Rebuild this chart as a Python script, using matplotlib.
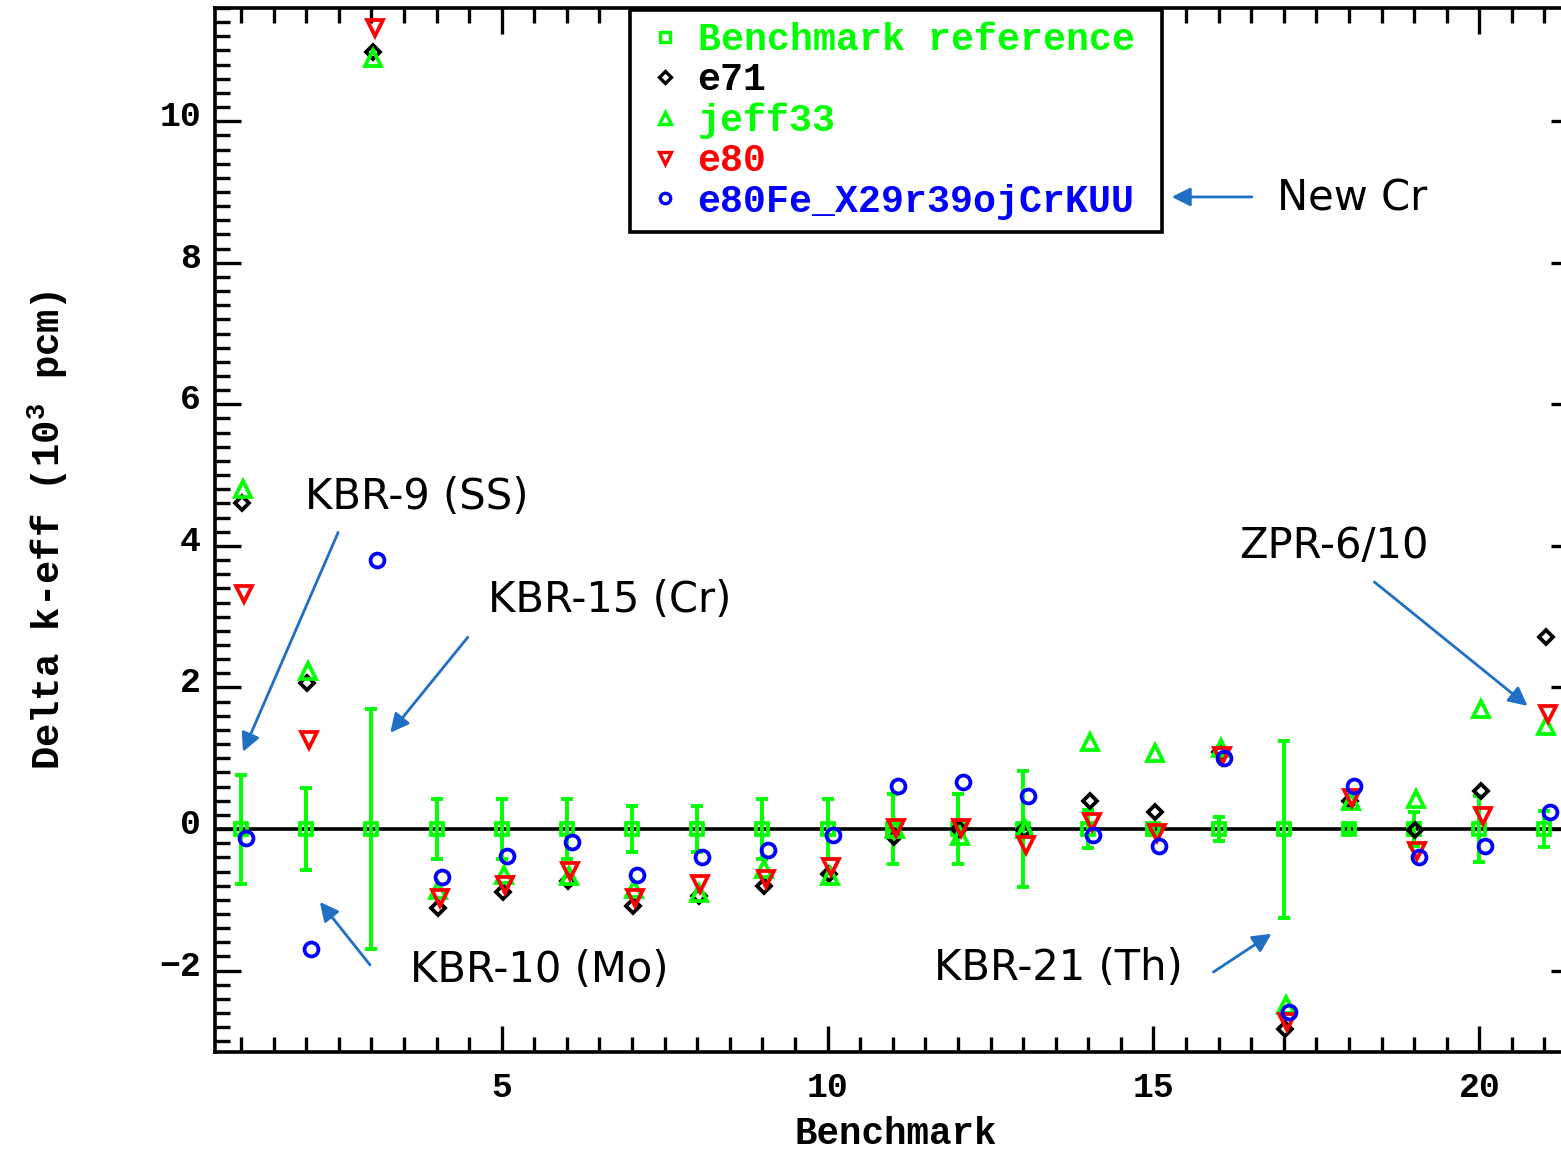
import numpy as np
import matplotlib
matplotlib.use("Agg")
import matplotlib.pyplot as plt
import matplotlib.transforms as mtrans
from matplotlib.lines import Line2D
from matplotlib.ticker import MultipleLocator
from matplotlib.font_manager import FontProperties

plt.rcParams['mathtext.fontset'] = 'custom'
plt.rcParams['mathtext.rm'] = 'Liberation Mono:bold'
plt.rcParams['mathtext.default'] = 'rm'

# benchmark index
bench = np.arange(1, 22)

# benchmark reference (0) and its uncertainty, 10^3 pcm
ref = np.zeros(21)
ref_err = [0.77, 0.58, 1.70, 0.42, 0.42, 0.42, 0.32, 0.33, 0.43, 0.43, 0.49,
           0.49, 0.82, 0.27, 0.05, 0.17, 1.25, 0.05, 0.24, 0.46, 0.25]

e71 = [4.60, 2.07, 10.98, -1.12, -0.89, -0.73, -1.09, -0.95, -0.81, -0.63, -0.11,
       0.00, -0.01, 0.40, 0.24, 1.09, -2.82, 0.39, -0.01, 0.54, 2.71]
jeff33 = [4.80, 2.23, 10.90, -0.86, -0.65, -0.67, -0.85, -0.90, -0.56, -0.67, 0.00,
          -0.10, 0.00, 1.23, 1.08, 1.14, -2.49, 0.39, 0.43, 1.69, 1.45]
e80 = [3.32, 1.26, 11.31, -0.98, -0.79, -0.59, -0.98, -0.77, -0.70, -0.53, 0.02,
       0.01, -0.23, 0.10, -0.05, 1.03, -2.72, 0.44, -0.31, 0.18, 1.63]
e80fe = [-0.12, -1.69, 3.80, -0.68, -0.38, -0.18, -0.65, -0.39, -0.29, -0.08, 0.61,
         0.67, 0.47, -0.08, -0.24, 1.01, -2.59, 0.61, -0.39, -0.24, 0.24]

labels = ['Benchmark reference', 'e71', 'jeff33', 'e80', 'e80Fe_X29r39ojCrKUU']
colors = ['#00ff00', 'black', '#00ff00', 'red', 'blue']
markers = ['s', 'D', '^', 'v', 'o']
msizes = [9, 7.5, 11, 11, 10]
xshift = [0.0, 0.02, 0.03, 0.05, 0.08]

# annotations: text, text pos (left, center), arrow start, arrow tip
notes = ['KBR-9 (SS)', 'KBR-15 (Cr)', 'KBR-10 (Mo)', 'KBR-21 (Th)', 'ZPR-6/10', 'New Cr']
note_xy = [(1.98, 4.69), (4.79, 3.23), (3.59, -1.99), (11.64, -1.96), (16.32, 4.0), (16.90, 8.91)]
arr_from = [(2.49, 4.19), (4.48, 2.71), (2.98, -1.92), (15.92, -2.02), (18.39, 3.49), (16.51, 8.93)]
arr_to = [(1.03, 1.09), (3.29, 1.36), (2.21, -1.03), (16.81, -1.48), (20.74, 1.74), (15.28, 8.93)]

mono = 'Liberation Mono'

fig = plt.figure(figsize=(15.61, 11.53), dpi=100)
ax = fig.add_axes([0.1377, 0.0876, 0.8726, 0.9055])

ax.axhline(0, color='black', lw=2.6, zorder=1.5)

ax.errorbar(bench + xshift[0], ref, yerr=ref_err, fmt='none', ecolor=colors[0],
            elinewidth=2.8, capsize=4, capthick=2.8, zorder=2)
series = [ref, e71, jeff33, e80, e80fe]
for i, ys in enumerate(series):
    ax.plot(bench + xshift[i], ys, linestyle='none', marker=markers[i], ms=msizes[i],
            mfc='none', mec=colors[i], mew=2.7, zorder=3 + i)

ax.set_xlim(0.6, 21.5)
ax.set_ylim(-3.15, 11.6)
ax.xaxis.set_major_locator(MultipleLocator(5))
ax.xaxis.set_minor_locator(MultipleLocator(0.5))
ax.yaxis.set_major_locator(MultipleLocator(2))
ax.yaxis.set_minor_locator(MultipleLocator(0.2))
ax.tick_params(which='both', direction='in', top=True, right=True, width=2.4)
ax.tick_params(which='major', length=19)
ax.tick_params(which='minor', length=11)
ax.tick_params(axis='x', pad=14)
ax.tick_params(axis='y', pad=10)
for sp in ax.spines.values():
    sp.set_linewidth(2.6)

tick_font = FontProperties(family=mono, weight='bold', size=25)
for lab in ax.get_xticklabels() + ax.get_yticklabels():
    lab.set_fontproperties(tick_font)
# y labels sit a little above their ticks in the original
lift = mtrans.ScaledTranslation(0, 8 / 100, fig.dpi_scale_trans)
for lab in ax.get_yticklabels():
    lab.set_transform(lab.get_transform() + lift)

ax.set_xlabel('Benchmark', fontproperties=FontProperties(family=mono, weight='bold', size=27),
              labelpad=8)
ax.set_ylabel('Delta k-eff (10$^{3}$ pcm)',
              fontproperties=FontProperties(family=mono, weight='bold', size=28), labelpad=64)

for txt, xy, a0, a1 in zip(notes, note_xy, arr_from, arr_to):
    ax.text(xy[0], xy[1], txt, fontsize=30, family='DejaVu Sans', ha='left', va='center',
            zorder=10)
    ax.annotate('', xy=a1, xytext=a0,
                arrowprops=dict(arrowstyle='-|>', color='#1f6fc5', lw=2, mutation_scale=28,
                                shrinkA=0, shrinkB=0),
                annotation_clip=False, zorder=10)

handles = [Line2D([], [], linestyle='none', marker=markers[i], ms=msizes[i] * 0.75,
                  mfc='none', mec=colors[i], mew=2.4) for i in range(5)]
leg = ax.legend(handles, labels, loc='upper left',
                bbox_to_anchor=(0.3047, 0.0, 0.3906, 0.998), mode='expand',
                borderaxespad=0, prop=FontProperties(family=mono, weight='bold', size=27.5),
                handlelength=1.2, handletextpad=0.25, labelspacing=0.11, borderpad=0.32,
                frameon=True, fancybox=False, edgecolor='black', framealpha=1)
leg.get_frame().set_linewidth(2.6)
leg.set_zorder(20)
for t, c in zip(leg.get_texts(), colors):
    t.set_color(c)

fig.savefig('out.png', dpi=100)
